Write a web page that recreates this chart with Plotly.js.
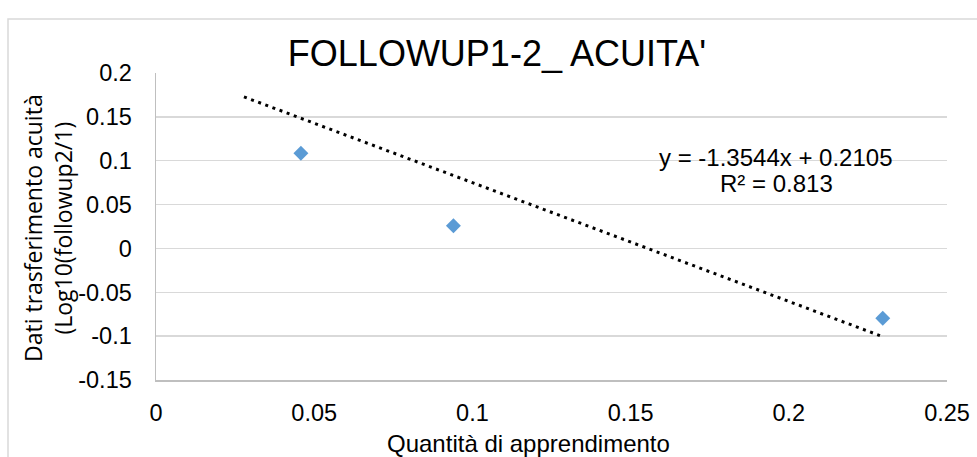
<!DOCTYPE html>
<html>
<head>
<meta charset="utf-8">
<script src="https://cdn.plot.ly/plotly-3.0.1.min.js"></script>
<style>html,body{margin:0;padding:0;background:#fff;}#chart{width:977px;height:457px;}</style>
</head>
<body>
<div id="chart"></div>
<script>
// Data
const pointsX = [0.0458, 0.094, 0.2297];
const pointsY = [0.1084, 0.0259, -0.0797];
const trendX = [0.0278, 0.2288];
const trendY = [0.1728, -0.0994];
const xTicks = [0, 0.05, 0.1, 0.15, 0.2, 0.25];
const xTickLabels = ['0', '0.05', '0.1', '0.15', '0.2', '0.25'];
const yTicks = [-0.15, -0.1, -0.05, 0, 0.05, 0.1, 0.15, 0.2];
const yTickLabels = ['-0.15', '-0.1', '-0.05', '0', '0.05', '0.1', '0.15', '0.2'];
const chartTitle = "FOLLOWUP1-2_ ACUITA'";
const xTitle = 'Quantità di apprendimento';
const yTitle = 'Dati trasferimento acuità<br>(Log10(followup2/1)';
const eqLine1 = 'y = -1.3544x + 0.2105';
const eqLine2 = 'R² = 0.813';

const W = 977, H = 457;
const L = 156, R = 947, T = 73, B = 380;
const px2x = p => (p - L) / (R - L);
const px2y = p => (B - p) / (B - T);

const font = 'Liberation Sans, Arial, sans-serif';

const traces = [
  {
    x: trendX, y: trendY, type: 'scatter', mode: 'lines',
    line: {color: '#000000', width: 3, dash: '3px,4.6px'},
    hoverinfo: 'skip', showlegend: false
  },
  {
    x: pointsX, y: pointsY, type: 'scatter', mode: 'markers',
    marker: {symbol: 'diamond', size: 11.5, color: '#5B9BD5', line: {width: 0}},
    showlegend: false
  }
];

const layout = {
  width: W, height: H,
  margin: {l: L, r: W - R, t: T, b: H - B, pad: 0},
  paper_bgcolor: '#ffffff', plot_bgcolor: '#ffffff',
  showlegend: false,
  title: {
    text: chartTitle,
    font: {family: font, size: 36, color: '#000000'},
    x: 497 / W, xref: 'container', xanchor: 'center',
    y: 1 - 53 / H, yref: 'container', yanchor: 'middle'
  },
  xaxis: {
    range: [0, 0.25], tickmode: 'array', tickvals: xTicks, ticktext: xTickLabels,
    showgrid: false, zeroline: false, showline: true, linecolor: '#bfbfbf', linewidth: 1.5,
    ticks: '', ticklabelstandoff: 11,
    tickfont: {family: font, size: 23.5, color: '#000000'}
  },
  yaxis: {
    range: [-0.15, 0.2], tickmode: 'array', tickvals: yTicks, ticktext: yTickLabels,
    showgrid: true, gridcolor: '#d9d9d9', gridwidth: 1.5, zeroline: false,
    showline: true, linecolor: '#bfbfbf', linewidth: 1.5,
    ticks: '', ticklabelstandoff: 18,
    tickfont: {family: font, size: 23.5, color: '#000000'}
  },
  shapes: [
    {type: 'rect', xref: 'paper', yref: 'paper',
     x0: px2x(8), x1: px2x(1100), y0: px2y(700), y1: px2y(19),
     line: {color: '#d9d9d9', width: 1.5}, fillcolor: 'rgba(0,0,0,0)', layer: 'below'}
  ],
  annotations: [
    {text: eqLine1, xref: 'paper', yref: 'paper', x: px2x(776), y: px2y(157),
     xanchor: 'center', yanchor: 'middle', showarrow: false,
     font: {family: font, size: 24, color: '#000000'}},
    {text: eqLine2, xref: 'paper', yref: 'paper', x: px2x(776), y: px2y(183),
     xanchor: 'center', yanchor: 'middle', showarrow: false,
     font: {family: font, size: 24, color: '#000000'}},
    {text: xTitle, xref: 'paper', yref: 'paper', x: px2x(528), y: px2y(443),
     xanchor: 'center', yanchor: 'middle', showarrow: false,
     font: {family: font, size: 24, color: '#000000'}},
    {text: yTitle, xref: 'paper', yref: 'paper', x: px2x(48), y: px2y(228),
     xanchor: 'center', yanchor: 'middle', showarrow: false, textangle: -90,
     font: {family: 'Open Sans, sans-serif', size: 23, color: '#000000'}}
  ]
};

Plotly.newPlot('chart', traces, layout, {displayModeBar: false, staticPlot: true});
</script>
</body>
</html>
